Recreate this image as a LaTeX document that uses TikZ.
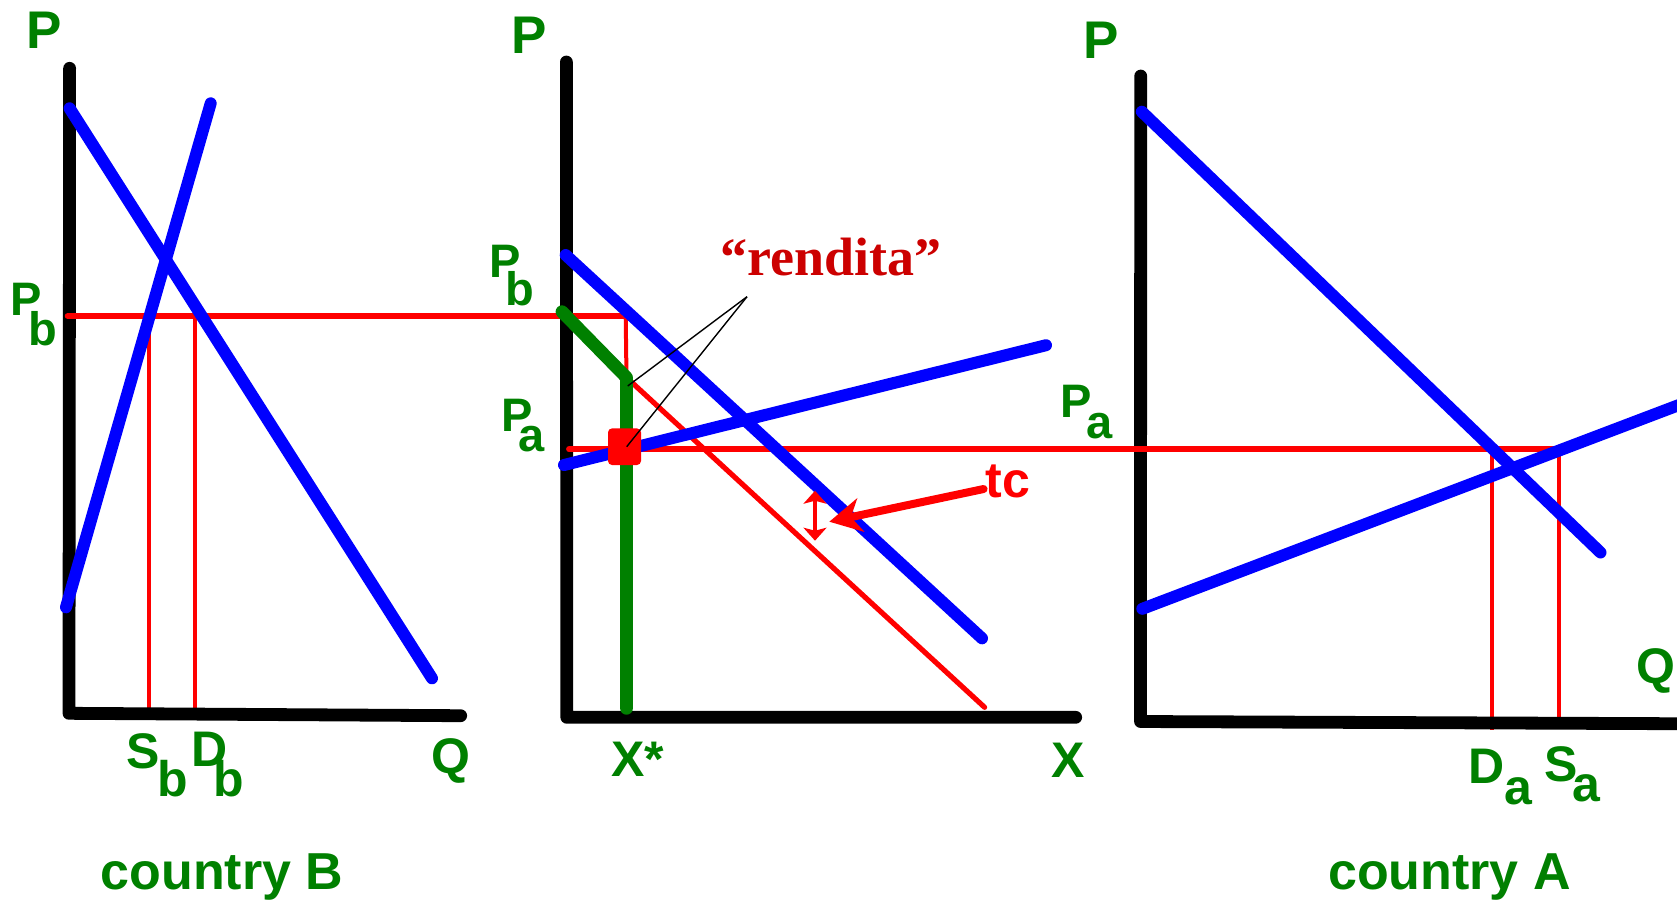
\documentclass[tikz,border=0pt]{standalone}
\usepackage{fontspec}
\setmainfont{Liberation Sans}
\newfontfamily\rendfont{Liberation Serif}
\usetikzlibrary{arrows.meta}
\definecolor{lgreen}{RGB}{0,128,0}
\definecolor{lblue}{RGB}{0,0,255}
\definecolor{lred}{RGB}{255,0,0}
\definecolor{dred}{RGB}{204,0,0}
\newcommand\sublab[4]{#1\hspace{#2}\raisebox{#3}{#4}}
\tikzset{
  axisline/.style={line width=6.4pt,black,line cap=round,line join=round},
  curveline/.style={line width=6pt,lblue,line cap=round},
  greenline/.style={line width=6.4pt,lgreen,line cap=round,line join=round},
  thinred/.style={line width=2pt,lred},
  pricered/.style={line width=3.2pt,lred,line cap=round},
  lbl/.style={inner sep=0pt,outer sep=0pt,text=lgreen,font=\bfseries\fontsize{23.5}{26}\selectfont},
  biglbl/.style={lbl,font=\bfseries\fontsize{26.5}{30}\selectfont},
  midlbl/.style={lbl,font=\bfseries\fontsize{25}{28}\selectfont},
  ctrylbl/.style={lbl,font=\bfseries\fontsize{26}{30}\selectfont},
}
\begin{document}
\begin{tikzpicture}[x=0.5pt,y=-0.5pt]
\useasboundingbox (0,0) rectangle (1677,902);
% ---------- coordinates ----------
% panel B
\coordinate (axBt) at (69.6,68.3);
\coordinate (axBc) at (69,713.3);
\coordinate (axBr) at (460.7,715.7);
\coordinate (dB1) at (69.6,108.3);
\coordinate (dB2) at (432,678.3);
\coordinate (sB1) at (66,607.3);
\coordinate (sB2) at (210.7,103.3);
\coordinate (pbL) at (67.9,316);
\coordinate (pbR) at (625.7,316);
\coordinate (sbT) at (149.3,316);
\coordinate (sbB) at (149.3,710);
\coordinate (dbT) at (194.6,316);
\coordinate (dbB) at (194.6,716.7);
% middle panel
\coordinate (axMt) at (566.4,62);
\coordinate (axMc) at (566.8,717.3);
\coordinate (axMr) at (1075.7,717.3);
\coordinate (dM1) at (565.7,255);
\coordinate (dM2) at (982,638.3);
\coordinate (sM1) at (564,465);
\coordinate (sM2) at (1046,345.2);
\coordinate (g1) at (562,311.7);
\coordinate (gc) at (626.5,377.5);
\coordinate (g2) at (626.5,708.3);
\coordinate (rdEnd) at (984.6,707.3);
\coordinate (paL) at (569,449.3);
\coordinate (paR) at (1559,449.3);
\coordinate (apex) at (747,296.7);
\coordinate (bl1) at (627.7,386);
\coordinate (bl2) at (626.7,446.7);
\coordinate (tcTail) at (983.6,489);
\coordinate (tcTip) at (829.3,521.7);
\coordinate (daT) at (815,490.7);
\coordinate (daB) at (815,540.7);
% panel A
\coordinate (axAt) at (1140.7,76);
\coordinate (axAc) at (1140.5,721.5);
\coordinate (axAr) at (1700,723.8);
\coordinate (dA1) at (1141.8,111.7);
\coordinate (dA2) at (1600.5,552.5);
\coordinate (sA1) at (1142.3,608.8);
\coordinate (sA2) at (1700,397);
\coordinate (vdaB) at (1492,730);
\coordinate (vdaT) at (1492,449.3);
\coordinate (vsaB) at (1559,727);
% ---------- red guide lines ----------
\draw[thinred] (sbT) -- (sbB);
\draw[thinred] (dbT) -- (dbB);
\draw[thinred] (pbR) -- (gc);
\draw[thinred,line width=2.6pt,line cap=round] (gc) -- (rdEnd);
\draw[thinred,line width=2.3pt] (vdaT) -- (vdaB);
\draw[thinred,line width=2.3pt] (paR) -- (vsaB);
% ---------- axes ----------
\draw[axisline] (axBt) -- (axBc) -- (axBr);
\draw[axisline] (axMt) -- (axMc) -- (axMr);
\draw[axisline] (axAt) -- (axAc) -- (axAr);
% ---------- price lines ----------
\draw[pricered] (pbL) -- (pbR);
\draw[pricered,line width=2.9pt] (paL) -- (paR);
% ---------- curves ----------
\draw[curveline] (dB1) -- (dB2);
\draw[curveline] (sB1) -- (sB2);
\draw[curveline] (dM1) -- (dM2);
\draw[curveline] (sM1) -- (sM2);
\draw[curveline] (dA1) -- (dA2);
\draw[curveline] (sA1) -- (sA2);
\draw[greenline] (g1) -- (gc) -- (g2);
% ---------- square and pointer lines ----------
\node[fill=lred,minimum width=16.5pt,minimum height=18.3pt,inner sep=0pt,rounded corners=2pt] (sq) at (624.5,446.7) {};
\draw[black,line width=0.7pt] (apex) -- (bl1);
\draw[black,line width=0.7pt] (apex) -- (bl2);
% ---------- tc arrows ----------
\draw[lred,line width=4pt,line cap=round,-{Stealth[length=16pt,width=17pt,inset=5pt]}] (tcTail) -- (tcTip);
\draw[lred,line width=2pt,{Stealth[length=6.5pt,width=11.5pt,inset=1.5pt]}-{Stealth[length=6.5pt,width=11.5pt,inset=1.5pt]}] (daT) -- (daB);
% ---------- labels ----------
\node[biglbl,anchor=base] (PB) at (44,48.3) {P};
\node[biglbl,anchor=base] (PM) at (529.5,53) {P};
\node[biglbl,anchor=base] (PA) at (1101.5,58) {P};
\node[lbl,anchor=base west] (PbB) at (10.7,315) {\sublab{P}{-6.8pt}{-15pt}{b}};
\node[lbl,anchor=base west] (PbM) at (489,277) {\sublab{P}{-7.4pt}{-14pt}{b}};
\node[lbl,anchor=base west] (PaM) at (501,431.7) {\sublab{P}{-6.8pt}{-10pt}{a}};
\node[lbl,anchor=base west] (PaA) at (1060,417) {\sublab{P}{-2.5pt}{-10.5pt}{a}};
\node[midlbl,anchor=base west] (Sb) at (126,768) {\sublab{S}{-1pt}{-14pt}{b}};
\node[midlbl,anchor=base west] (Db) at (191,766.7) {\sublab{D}{-7pt}{-15pt}{b}};
\node[midlbl,anchor=base] (QB) at (451,773) {Q};
\node[midlbl,anchor=base west] (Xs) at (611,776.7) {X*};
\node[midlbl,anchor=base] (XM) at (1068.5,777) {X};
\node[midlbl,anchor=base west] (Da) at (1468,783) {\sublab{D}{0pt}{-10.5pt}{a}};
\node[midlbl,anchor=base west] (Sa) at (1544.6,781) {\sublab{S}{-2.5pt}{-10pt}{a}};
\node[midlbl,anchor=base] (QA) at (1655.5,683) {Q};
\node[ctrylbl,anchor=base] (cB) at (222,889) {country B};
\node[ctrylbl,anchor=base] (cA) at (1449.5,889) {country A};
\node[inner sep=0pt,anchor=base,text=dred,font=\rendfont\bfseries\fontsize{27}{30}\selectfont] (rend) at (831,275) {“rendita”};
\node[inner sep=0pt,anchor=base west,text=lred,font=\bfseries\fontsize{25}{28}\selectfont] (tc) at (985,497) {tc};
\end{tikzpicture}
\end{document}
